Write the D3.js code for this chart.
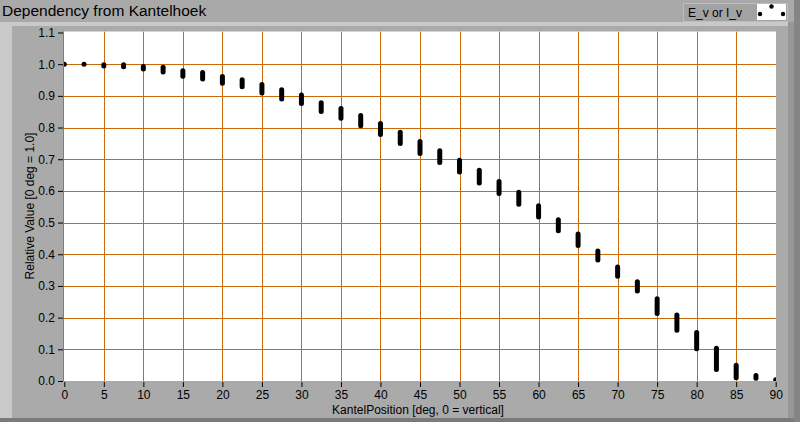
<!DOCTYPE html>
<html>
<head>
<meta charset="utf-8">
<script src="https://cdn.jsdelivr.net/npm/d3@7"></script>
<style>
  html, body { margin: 0; padding: 0; background: #a9a9a9; }
  svg { display: block; }
  text { font-family: "Liberation Sans", Arial, sans-serif; fill: #000; }
</style>
</head>
<body>
<svg id="chart" width="800" height="422"></svg>
<script>
// ---- data ----
const angles = [0, 2.5, 5, 7.5, 10, 12.5, 15, 17.5, 20, 22.5, 25, 27.5, 30, 32.5, 35, 37.5,
  40, 42.5, 45, 47.5, 50, 52.5, 55, 57.5, 60, 62.5, 65, 67.5, 70, 72.5, 75, 77.5, 80, 82.5, 85, 87.5, 90];
const valueMax = [1.0, 1.0, 0.998, 0.998, 0.993, 0.990, 0.979, 0.974, 0.961, 0.951, 0.936, 0.919, 0.903, 0.878,
  0.860, 0.838, 0.813, 0.785, 0.756, 0.727, 0.697, 0.665, 0.630, 0.596, 0.553, 0.509, 0.464, 0.410, 0.360, 0.313,
  0.260, 0.208, 0.153, 0.103, 0.050, 0.017, 0.004];
const valueMin = [1.0, 1.0, 0.994, 0.992, 0.985, 0.975, 0.962, 0.953, 0.940, 0.929, 0.909, 0.890, 0.876, 0.851,
  0.829, 0.806, 0.778, 0.750, 0.718, 0.690, 0.660, 0.625, 0.592, 0.558, 0.518, 0.474, 0.428, 0.382, 0.331, 0.284,
  0.213, 0.160, 0.102, 0.036, 0.010, 0.009, 0.002];
const xTicks = d3.range(0, 91, 5);
const yTicks = d3.range(0, 11.5, 1).map(d => d / 10);
const title = "Dependency from Kantelhoek";
const xLabel = "KantelPosition [deg, 0 = vertical]";
const yLabel = "Relative Value [0 deg = 1.0]";
const legendLabel = "E_v or I_v";

// ---- layout ----
const svg = d3.select("#chart");
const W = 800, H = 422;
const plot = { left: 64, right: 776, top: 31.5, bottom: 381 };

const x = d3.scaleLinear().domain([0, 90]).range([64.3, 775.7]);
const y = d3.scaleLinear().domain([0, 1.1]).range([381, 32.5]);

// background panel
svg.append("rect").attr("x", 0).attr("y", 0).attr("width", W).attr("height", H).attr("fill", "#a9a9a9");
// light bevel (top & left)
svg.append("rect").attr("x", 0).attr("y", 22).attr("width", 788).attr("height", 4).attr("fill", "#c9c9c9");
svg.append("rect").attr("x", 0).attr("y", 22).attr("width", 12).attr("height", 396).attr("fill", "#c9c9c9");
// inner panel
svg.append("rect").attr("x", 12).attr("y", 26).attr("width", 776).attr("height", 392).attr("fill", "#aaaaaa");
// dark bevel (right & bottom)
svg.append("rect").attr("x", 788).attr("y", 22).attr("width", 6).attr("height", 400).attr("fill", "#979797");
svg.append("rect").attr("x", 794).attr("y", 0).attr("width", 6).attr("height", 422).attr("fill", "#858585");
svg.append("rect").attr("x", 0).attr("y", 418).attr("width", 794).attr("height", 4).attr("fill", "#7a7a7a");

// title
svg.append("text").attr("x", 2).attr("y", 16).attr("font-size", 15.5).text(title);

// legend
const lg = svg.append("g");
lg.append("rect").attr("x", 683.5).attr("y", 3.5).attr("width", 104).attr("height", 18)
  .attr("fill", "#a2a2a2").attr("stroke", "#bdbdbd");
lg.append("text").attr("x", 688).attr("y", 17).attr("font-size", 12).text(legendLabel);
lg.append("rect").attr("x", 757).attr("y", 4).attr("width", 29).attr("height", 16).attr("fill", "#fff");
const swatchPts = [[771.5, 6.5], [760, 14], [783, 14]];
lg.selectAll("circle.sw").data(swatchPts).join("circle")
  .attr("cx", d => d[0]).attr("cy", d => d[1]).attr("r", 2.2).attr("fill", "#000");

// plot area
svg.append("rect").attr("x", plot.left).attr("y", plot.top)
  .attr("width", plot.right - plot.left).attr("height", plot.bottom - plot.top).attr("fill", "#fff");

svg.append("clipPath").attr("id", "clip").append("rect")
  .attr("x", plot.left).attr("y", plot.top)
  .attr("width", plot.right - plot.left).attr("height", plot.bottom - plot.top);

// grid
const grid = svg.append("g").attr("clip-path", "url(#clip)");
grid.selectAll("line.vg").data(xTicks.filter(d => d > 0 && d < 90)).join("line")
  .attr("x1", d => Math.round(x(d)) + 0.5).attr("x2", d => Math.round(x(d)) + 0.5)
  .attr("y1", plot.top).attr("y2", plot.bottom)
  .attr("stroke", "#cc6a0a").attr("stroke-width", 1);
grid.selectAll("line.hg").data(yTicks.filter(d => d > 0 && d < 1.1)).join("line")
  .attr("y1", d => Math.round(y(d)) + 0.5).attr("y2", d => Math.round(y(d)) + 0.5)
  .attr("x1", plot.left).attr("x2", plot.right)
  .attr("stroke", "#cc6a0a").attr("stroke-width", 1);

// left frame line
svg.append("line").attr("x1", 63.5).attr("x2", 63.5).attr("y1", plot.top).attr("y2", plot.bottom)
  .attr("stroke", "#7d7d7d");

// data marks
const data = angles.map((a, i) => ({ a, lo: valueMin[i], hi: valueMax[i] }));
grid.selectAll("line.mark").data(data).join("line")
  .attr("x1", d => x(d.a)).attr("x2", d => x(d.a))
  .attr("y1", d => y(d.hi)).attr("y2", d => y(d.lo))
  .attr("stroke", "#000").attr("stroke-width", 5).attr("stroke-linecap", "round");

// axes
const xAxis = d3.axisBottom(x).tickValues(xTicks).tickSize(5).tickPadding(3).tickFormat(d3.format("d"));
const gx = svg.append("g").attr("transform", `translate(0,${plot.bottom + 1})`).call(xAxis);
gx.select(".domain").remove();
gx.selectAll("line").attr("stroke", "#000");
gx.selectAll("text").attr("font-size", 12).attr("font-family", "Liberation Sans, Arial, sans-serif").attr("fill", "#000");

const yAxis = d3.axisLeft(y).tickValues(yTicks).tickSize(5).tickPadding(3).tickFormat(d3.format(".1f"));
const gy = svg.append("g").attr("transform", `translate(${plot.left - 1},0)`).call(yAxis);
gy.select(".domain").remove();
gy.selectAll("line").attr("stroke", "#000");
gy.selectAll("text").attr("font-size", 12).attr("font-family", "Liberation Sans, Arial, sans-serif").attr("fill", "#000");

// axis labels
svg.append("text").attr("x", 418).attr("y", 414).attr("text-anchor", "middle").attr("font-size", 12).text(xLabel);
svg.append("text").attr("transform", "translate(34,206) rotate(-90)").attr("text-anchor", "middle")
  .attr("font-size", 12).text(yLabel);
</script>
</body>
</html>
